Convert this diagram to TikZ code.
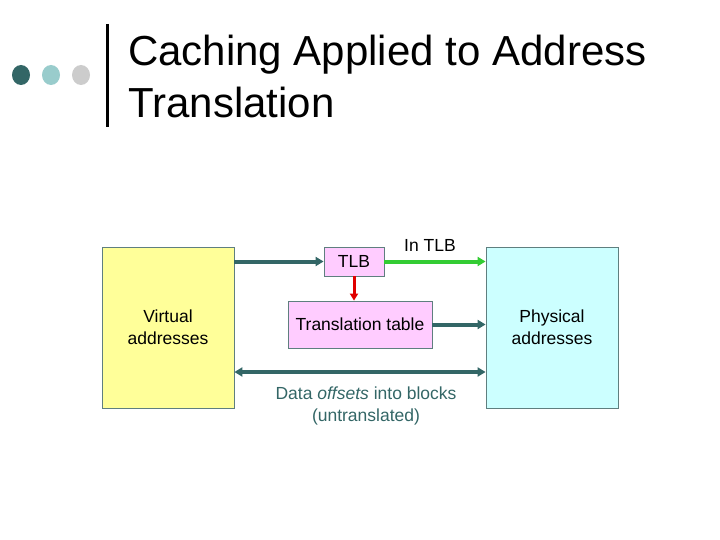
\documentclass[tikz,border=0pt]{standalone}
\usepackage{fontspec}
\setmainfont{Liberation Sans}
\usetikzlibrary{arrows.meta}
\definecolor{slate}{HTML}{336666}
\definecolor{vyellow}{HTML}{FFFF99}
\definecolor{pcyan}{HTML}{CCFFFF}
\definecolor{tpink}{HTML}{FFCCFF}
\definecolor{hitgreen}{HTML}{33CC33}
\definecolor{missred}{HTML}{E00000}
\definecolor{dotlight}{HTML}{99CCCC}
\definecolor{dotgray}{HTML}{CCCCCC}
\definecolor{edge}{HTML}{5F7F7F}

\begin{document}
\begin{tikzpicture}[x=1pt,y=-1pt,
  box/.style={draw=edge,line width=0.8pt,inner sep=0pt,align=center,
    font=\fontsize{17.5}{22}\selectfont},
  arr/.style={line width=4pt,-{Triangle[length=8pt,width=9pt]}},
  title/.style={anchor=base west,inner sep=0pt,font=\fontsize{42}{52}\selectfont}]
\useasboundingbox (0,0) rectangle (720,540);
\foreach \x/\c in {21/slate,51/dotlight,81/dotgray}{\fill[\c] (\x,75) ellipse (9 and 10);}
\draw[line width=3pt] (107,24) -- (107,127);
\node[title] (t1) at (128,66) {Caching Applied to Address};
\node[title] (t2) at (128,118) {Translation};
\node[box,fill=vyellow,minimum width=132pt,minimum height=161pt] (va) at (168,327.5) {Virtual\\addresses};
\node[box,fill=pcyan,minimum width=132pt,minimum height=161pt] (pa) at (552,327.5) {Physical\\addresses};
\node[box,fill=tpink,minimum width=60pt,minimum height=29pt] (tlb) at (354,261.5) {TLB};
\node[box,fill=tpink,minimum width=144pt,minimum height=47pt] (tt) at (360,324.5) {Translation table};
\draw[arr,slate] (tlb.west -| va.east) -- (tlb.west);
\draw[arr,hitgreen] (tlb.east) -- (tlb.east -| pa.west);
\node[font=\fontsize{17.5}{22}\selectfont] (hit) at (430,245) {In TLB};
\draw[line width=3pt,missred,-{Triangle[length=7pt,width=8pt]}] (tlb.south) -- (tlb.south |- tt.north);
\draw[arr,slate] (tt.east) -- (tt.east -| pa.west);
\coordinate (d) at (366,372);
\draw[arr,slate,{Triangle[length=8pt,width=9pt]}-{Triangle[length=8pt,width=9pt]}] (d -| va.east) -- (d -| pa.west);
\node[align=center,text=slate,font=\fontsize{17.5}{22}\selectfont] (off) at (366,405.5) {Data \textit{offsets} into blocks\\(untranslated)};
\end{tikzpicture}
\end{document}
